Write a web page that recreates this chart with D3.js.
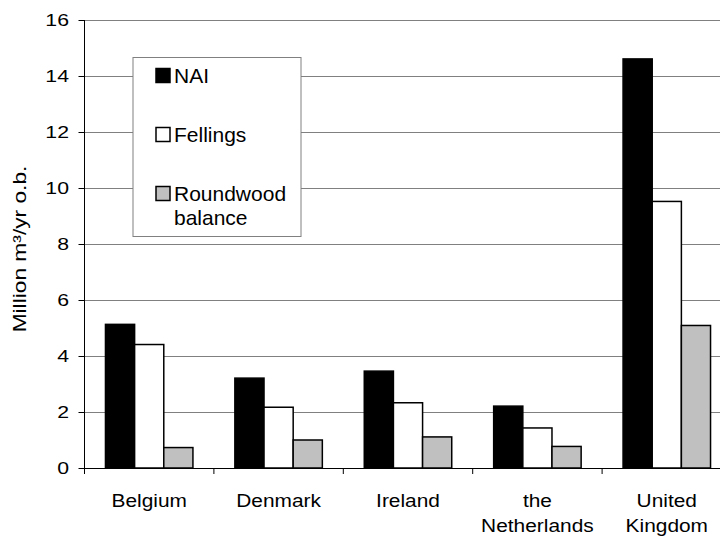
<!DOCTYPE html>
<html>
<head>
<meta charset="utf-8">
<script src="https://cdn.jsdelivr.net/npm/d3@7"></script>
<style>
  html, body { margin: 0; padding: 0; background: #fff; }
  svg { display: block; }
  text { font-family: "Liberation Sans", Arial, Helvetica, sans-serif; fill: #000; }
</style>
</head>
<body>
<svg id="chart" width="720" height="536"></svg>
<script>
// Forest increment vs. fellings, million m³ per year over bark
const categories = ["Belgium", "Denmark", "Ireland", "the\nNetherlands", "United\nKingdom"];
const seriesNames = ["NAI", "Fellings", "Roundwood\nbalance"];
const nai       = [5.13, 3.21, 3.46, 2.21, 14.61];
const fellings  = [4.41, 2.17, 2.33, 1.43, 9.52];
const roundwood = [0.73, 1.00, 1.11, 0.77, 5.09];
const yTicks = [0, 2, 4, 6, 8, 10, 12, 14, 16];
const yTitle = "Million m³/yr o.b.";

const seriesValues = [nai, fellings, roundwood];
const fills = ["#000000", "#ffffff", "#c0c0c0"];

const svg = d3.select("#chart");
const plot = { left: 84.5, right: 731.5, top: 20, bottom: 468 };

const x = d3.scaleBand().domain(categories).range([plot.left, plot.right]).paddingInner(0).paddingOuter(0);
const xs = d3.scaleBand().domain(d3.range(seriesNames.length))
  .range([x.bandwidth() * 0.162, x.bandwidth() * 0.838]).padding(0);
const y = d3.scaleLinear().domain([0, 16]).range([plot.bottom, plot.top]);

// text helper: stretched glyphs drawn about their anchor point
function label(g, str, tx, ty, opts) {
  const o = Object.assign({ size: 17, sx: 1, rot: 0, anchor: "start" }, opts);
  return g.append("text")
    .attr("transform", `translate(${tx},${ty}) rotate(${o.rot}) scale(${o.sx},1)`)
    .attr("text-anchor", o.anchor)
    .style("font-size", o.size + "px")
    .text(str);
}

// horizontal gridlines
svg.append("g").selectAll("line").data(yTicks.filter(d => d > 0)).join("line")
  .attr("x1", plot.left).attr("x2", plot.right)
  .attr("y1", d => Math.round(y(d)) + 0.5).attr("y2", d => Math.round(y(d)) + 0.5)
  .attr("stroke", "#808080").attr("stroke-width", 1);

// bars
const groups = svg.append("g").selectAll("g").data(categories).join("g")
  .attr("transform", c => `translate(${x(c)},0)`);
groups.selectAll("rect")
  .data((c, i) => seriesValues.map((vals, s) => ({ s, v: vals[i] })))
  .join("rect")
  .attr("x", d => xs(d.s))
  .attr("width", xs.bandwidth())
  .attr("y", d => y(d.v))
  .attr("height", d => y(0) - y(d.v))
  .attr("fill", d => fills[d.s])
  .attr("stroke", "#000").attr("stroke-width", 1.5);

// y axis
const yAxis = svg.append("g");
yAxis.append("line").attr("x1", plot.left).attr("x2", plot.left)
  .attr("y1", plot.top).attr("y2", plot.bottom).attr("stroke", "#000");
yAxis.selectAll("line.tick").data(yTicks).join("line").attr("class", "tick")
  .attr("x1", plot.left - 6).attr("x2", plot.left)
  .attr("y1", d => Math.round(y(d)) + 0.5).attr("y2", d => Math.round(y(d)) + 0.5)
  .attr("stroke", "#000");
yTicks.forEach(t => {
  label(yAxis, String(t), 69, y(t) + 6, { size: 17, sx: 1.25, anchor: "end" });
});

// x axis
const xAxis = svg.append("g");
xAxis.append("line").attr("x1", plot.left).attr("x2", plot.right)
  .attr("y1", plot.bottom + 0.5).attr("y2", plot.bottom + 0.5).attr("stroke", "#000");
xAxis.selectAll("line.tick").data(categories.concat(["_end"])).join("line").attr("class", "tick")
  .attr("x1", (c, i) => plot.left + i * x.bandwidth())
  .attr("x2", (c, i) => plot.left + i * x.bandwidth())
  .attr("y1", plot.bottom).attr("y2", plot.bottom + 6)
  .attr("stroke", "#000");
categories.forEach(c => {
  const cx = x(c) + x.bandwidth() / 2;
  c.split("\n").forEach((line, k) => {
    label(xAxis, line, cx, 506.5 + k * 25.5, { size: 18.5, sx: 1.13, anchor: "middle" });
  });
});

// y axis title
label(svg, yTitle, 26, 249, { size: 17.5, sx: 1.3, rot: -90, anchor: "middle" });

// legend
const legend = svg.append("g");
legend.append("rect").attr("x", 133).attr("y", 57.5).attr("width", 168).attr("height", 179)
  .attr("fill", "#fff").attr("stroke", "#808080").attr("stroke-width", 1);
const legendBase = [82.5, 141.5, 200.5];
seriesNames.forEach((name, s) => {
  legend.append("rect").attr("x", 156).attr("y", legendBase[s] - 14)
    .attr("width", 14).attr("height", 14)
    .attr("fill", fills[s]).attr("stroke", "#000").attr("stroke-width", 1.5);
  name.split("\n").forEach((line, k) => {
    label(legend, line, 174, legendBase[s] + k * 24.5, { size: 20, sx: 1.05 });
  });
});
</script>
</body>
</html>
